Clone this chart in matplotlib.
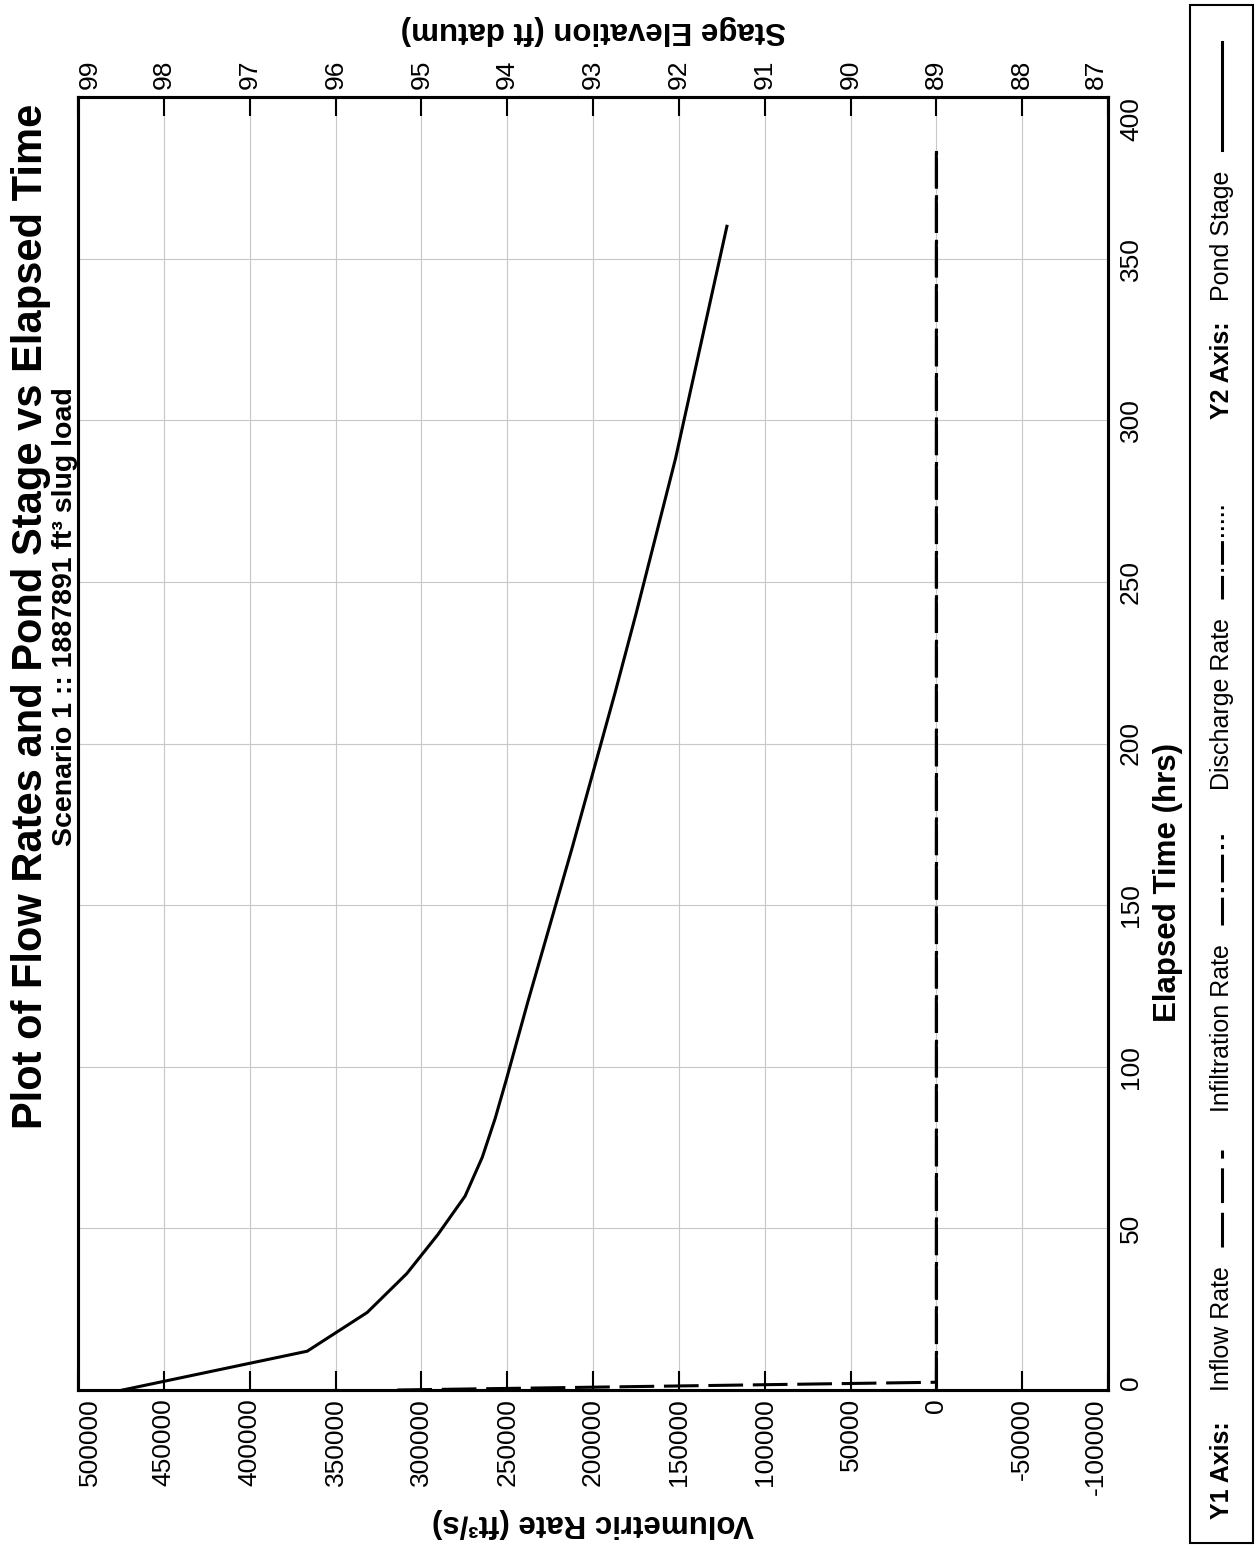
import matplotlib
matplotlib.use('Agg')
import numpy as np
import matplotlib.pyplot as plt
from matplotlib.lines import Line2D
from matplotlib.patches import Rectangle

plt.rcParams['font.family'] = ['Liberation Sans', 'DejaVu Sans']
plt.rcParams['lines.scale_dashes'] = False

# ---------------- data ----------------
stage_time = [0, 12, 24, 36, 48, 60, 72, 84, 96, 120, 144, 168, 192, 216, 240, 264, 288, 336, 360]
stage_elev = [98.48, 96.33, 95.63, 95.17, 94.81, 94.49, 94.29, 94.14, 94.01, 93.76, 93.50,
              93.24, 92.99, 92.74, 92.50, 92.27, 92.04, 91.64, 91.44]

inflow_time = [0, 2.4, 385]
inflow_rate = [314000, 0, 0]
infil_time = [0, 385]
infil_rate = [0, 0]
disch_time = [0, 385]
disch_rate = [0, 0]

rate_ticks = [500000, 450000, 400000, 350000, 300000, 250000, 200000, 150000,
              100000, 50000, 0, -50000, -100000]
stage_ticks = [99, 98, 97, 96, 95, 94, 93, 92, 91, 90, 89, 88, 87]
time_ticks = [0, 50, 100, 150, 200, 250, 300, 350, 400]

title = 'Plot of Flow Rates and Pond Stage vs Elapsed Time'
subtitle = 'Scenario 1 :: 1887891 ft\u00b3 slug load'
rate_label = 'Volumetric Rate (ft\u00b3/s)'
stage_label = 'Stage Elevation (ft datum)'
time_label = 'Elapsed Time (hrs)'

# dash patterns (points)
PLOT_INFLOW = (25, 7)
PLOT_INFIL = (20, 4, 3, 5)
PLOT_DISCH = (17, 3, 2, 3, 2, 5)
LEG_INFLOW = (0, (25, 7))
LEG_INFIL = (0, (20, 4, 3, 4, 20, 4, 3, 4, 3, 5))
LEG_DISCH = (0, (17, 3, 2, 3, 17, 3, 2, 3, 2, 3, 2, 3, 2, 3, 2, 4))

# ---------------- figure ----------------
W_PX, H_PX = 1259, 1549
def fx(px):
    return px / W_PX
def fy(py):
    return 1 - py / H_PX

fig = plt.figure(figsize=(W_PX / 100, H_PX / 100), dpi=100)
fig.patch.set_facecolor('white')

ax = fig.add_axes([fx(78), fy(1390), fx(1108) - fx(78), fy(97) - fy(1390)])
ax.set_xlim(500000, -100000)
ax.set_ylim(0, 400)

LW = 2.2
# phase so that the dashes of the overlapping zero-rate lines line up with the inflow dashes
pts = ax.transData.transform(np.column_stack([inflow_rate[:2], inflow_time[:2]]))
slant_pt = np.hypot(*(pts[1] - pts[0])) * 72 / fig.dpi
rise_pt = abs(pts[1][1] - pts[0][1]) * 72 / fig.dpi
phase = (slant_pt - rise_pt) % 32

ax.plot(infil_rate, infil_time, color='black', lw=LW, linestyle=(phase, PLOT_INFIL))
ax.plot(disch_rate, disch_time, color='black', lw=LW, linestyle=(phase, PLOT_DISCH))
ax.plot(inflow_rate, inflow_time, color='black', lw=LW, linestyle=(0, PLOT_INFLOW))

ax.set_xticks(rate_ticks)
xl = ax.set_xticklabels([str(v) for v in rate_ticks], rotation=90, fontsize=19)
xl[0].set_ha('left')
xl[-1].set_ha('right')
ax.tick_params(axis='x', direction='in', length=13.7, width=1.5, pad=6,
               bottom=True, top=False)

ax.yaxis.tick_right()
ax.set_yticks(time_ticks)
yl = ax.set_yticklabels([str(v) for v in time_ticks], rotation=90, fontsize=19, va='center')
yl[0].set_va('bottom')
yl[-1].set_va('top')
ax.tick_params(axis='y', length=0, pad=8, left=False, right=False)

ax.grid(True, color='#c8c8c8', lw=0.8)
ax.set_axisbelow(True)

ax2 = ax.twiny()
ax2.set_xlim(99, 87)
ax2.plot(stage_elev, stage_time, color='black', lw=LW, solid_joinstyle='miter')
ax2.set_xticks(stage_ticks)
tl = ax2.set_xticklabels([str(v) for v in stage_ticks], rotation=90, fontsize=19)
tl[0].set_ha('left')
tl[-1].set_ha('right')
ax2.tick_params(axis='x', direction='in', length=13.7, width=1.5, pad=6,
                top=True, bottom=False)
ax2.set_ylim(0, 400)

for a in (ax, ax2):
    for s in a.spines.values():
        s.set_linewidth(2.2)

# ---------------- texts ----------------
fig.text(fx(31), fy(616), title, rotation=90, ha='center', va='center',
         fontsize=30, fontweight='bold')
fig.text(fx(65), fy(617), subtitle, rotation=90, ha='center', va='center',
         fontsize=20.5, fontweight='bold')
fig.text(fx(593), fy(1523), rate_label, rotation=180, ha='center', va='center',
         fontsize=22.5, fontweight='bold')
fig.text(fx(593), fy(30), stage_label, rotation=180, ha='center', va='center',
         fontsize=22.5, fontweight='bold')
fig.text(fx(1168), fy(882), time_label, rotation=90, ha='center', va='center',
         fontsize=22.5, fontweight='bold')

# ---------------- legend ----------------
fig.add_artist(Rectangle((fx(1190), fy(1543)), fx(1253) - fx(1190), fy(5) - fy(1543),
                         transform=fig.transFigure, fill=False, lw=1.5, ec='black'))
LX = fx(1222)
legend_texts = [
    ('Y1 Axis:', 1470, 'bold'),
    ('Inflow Rate', 1329, 'normal'),
    ('Infiltration Rate', 1028, 'normal'),
    ('Discharge Rate', 704, 'normal'),
    ('Y2 Axis:', 370, 'bold'),
    ('Pond Stage', 236, 'normal'),
]
for txt, yc, wt in legend_texts:
    fig.text(LX, fy(yc), txt, rotation=90, ha='center', va='center',
             fontsize=18, fontweight=wt)

legend_lines = [
    (1247, 1150, LEG_INFLOW),
    (925, 828, LEG_INFIL),
    (599, 502, LEG_DISCH),
    (150, 42, '-'),
]
for y0, y1, ls in legend_lines:
    fig.add_artist(Line2D([LX, LX], [fy(y0), fy(y1)], transform=fig.transFigure,
                          color='black', lw=LW, linestyle=ls))

fig.savefig('out.png', dpi=100)
